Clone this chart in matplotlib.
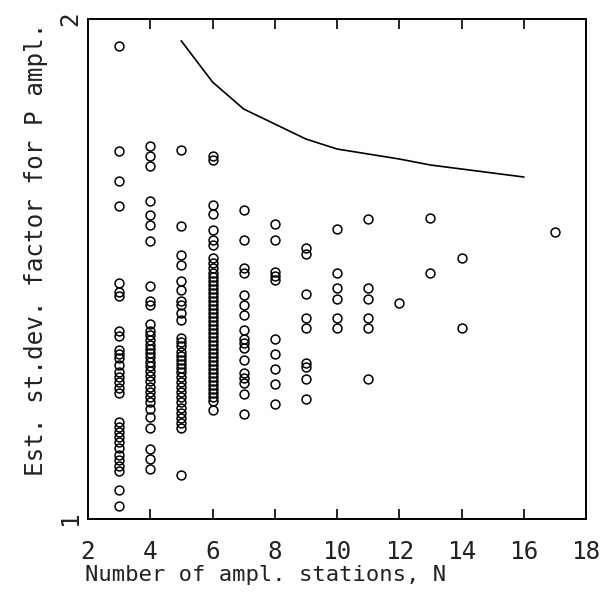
import matplotlib
matplotlib.use("Agg")
import matplotlib.pyplot as plt

# ---- data ----
n3 = [1.946, 1.736, 1.676, 1.626, 1.472, 1.454, 1.446, 1.376, 1.366, 1.338, 1.330, 1.322,
      1.308, 1.294, 1.284, 1.274, 1.262, 1.252, 1.194, 1.184, 1.174, 1.164, 1.154, 1.142,
      1.128, 1.118, 1.106, 1.096, 1.058, 1.026]
n4 = [1.746, 1.726, 1.706, 1.636, 1.608, 1.588, 1.556, 1.466, 1.436, 1.428, 1.390, 1.376,
      1.368, 1.358, 1.348, 1.340, 1.332, 1.324, 1.314, 1.306, 1.296, 1.286, 1.276, 1.264,
      1.254, 1.244, 1.234, 1.220, 1.204, 1.182, 1.140, 1.120, 1.100]
n5 = [1.738, 1.586, 1.528, 1.508, 1.476, 1.458, 1.436, 1.428, 1.412, 1.398, 1.362, 1.354,
      1.346, 1.334, 1.326, 1.318, 1.310, 1.302, 1.294, 1.284, 1.274, 1.264, 1.254, 1.244,
      1.234, 1.222, 1.212, 1.202, 1.192, 1.182, 1.088]
n6 = [1.726, 1.718, 1.628, 1.610, 1.578, 1.558, 1.548, 1.522, 1.512, 1.502, 1.492, 1.484,
      1.476, 1.468, 1.460, 1.452, 1.444, 1.436, 1.428, 1.420, 1.412, 1.404, 1.396, 1.388,
      1.380, 1.372, 1.364, 1.356, 1.348, 1.340, 1.332, 1.324, 1.316, 1.308, 1.300, 1.292,
      1.284, 1.276, 1.268, 1.260, 1.252, 1.244, 1.236, 1.218]
n7 = [1.618, 1.558, 1.502, 1.492, 1.448, 1.428, 1.408, 1.378, 1.360, 1.352, 1.342, 1.318,
      1.292, 1.282, 1.272, 1.250, 1.210]
n8 = [1.590, 1.558, 1.494, 1.486, 1.478, 1.360, 1.330, 1.300, 1.270, 1.230]
n9 = [1.542, 1.530, 1.450, 1.402, 1.382, 1.312, 1.304, 1.280, 1.240]
n10 = [1.580, 1.492, 1.462, 1.440, 1.402, 1.382]
n11 = [1.600, 1.462, 1.440, 1.402, 1.382, 1.280]
n12 = [1.432]
n13 = [1.602, 1.492]
n14 = [1.522, 1.382]
n17 = [1.574]

scatter_groups = {3: n3, 4: n4, 5: n5, 6: n6, 7: n7, 8: n8, 9: n9, 10: n10,
                  11: n11, 12: n12, 13: n13, 14: n14, 17: n17}

curve_n = [5, 6, 7, 8, 9, 10, 11, 12, 13, 14, 15, 16]
curve_v = [1.956, 1.874, 1.820, 1.790, 1.760, 1.740, 1.730, 1.720, 1.708, 1.700, 1.692, 1.684]

xticks = [2, 4, 6, 8, 10, 12, 14, 16, 18]
yticks = [1, 2]
xlabel = "Number of ampl. stations, N"
ylabel = "Est. st.dev. factor for P ampl."

plt.rcParams['font.family'] = ['DejaVu Sans Mono', 'DejaVu Sans']

fig = plt.figure(figsize=(6.01, 6.03), dpi=100)
ax = fig.add_axes([88/601, 1 - 519/603, (586-88)/601, (519-19)/603])

xs, ys = [], []
for n, vals in scatter_groups.items():
    xs += [n] * len(vals)
    ys += vals
ax.plot(xs, ys, linestyle='none', marker='o', markersize=6.4, markerfacecolor='none',
        markeredgecolor='black', markeredgewidth=1.1)
ax.plot(curve_n, curve_v, color='black', linewidth=1.2)

ax.set_xlim(2, 18)
ax.set_ylim(1, 2)
ax.set_xticks(xticks)
ax.set_xticklabels([str(t) for t in xticks], fontsize=17.5, color='#222222')
ax.set_yticks(yticks)
ax.set_yticklabels([str(t) for t in yticks], fontsize=17.5, rotation=90, va='center',
                   color='#222222')
ax.tick_params(axis='x', direction='in', length=7, width=1.2, top=True, pad=15)
ax.tick_params(axis='y', length=0, pad=4)
for t in ax.xaxis.get_major_ticks():
    if t.get_loc() in (2, 18):
        t.tick1line.set_visible(False)
        t.tick2line.set_visible(False)
for s in ax.spines.values():
    s.set_linewidth(1.4)

fig.text(85/601, 1 - 575/603, xlabel, fontsize=16, ha='left', va='center', color='#222222')
fig.text(36/601, 1 - 249/603, ylabel, fontsize=17.5, rotation=90, ha='center', va='center',
         color='#222222')

fig.savefig("out.png", dpi=100)
